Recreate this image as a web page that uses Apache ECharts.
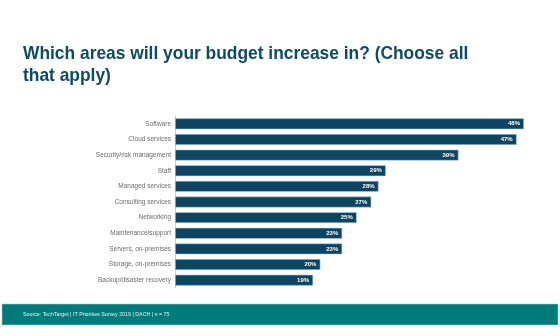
<!DOCTYPE html>
<html>
<head>
<meta charset="utf-8">
<script src="https://cdn.jsdelivr.net/npm/echarts@6/dist/echarts.min.js"></script>
<style>
  html, body { margin: 0; padding: 0; background: #ffffff; }
  #chart { width: 560px; height: 336px; }
</style>
</head>
<body>
<div id="chart"></div>
<script>
// Budget areas, listed top to bottom
const categories = [
  'Software',
  'Cloud services',
  'Security/risk management',
  'Staff',
  'Managed services',
  'Consulting services',
  'Networking',
  'Maintenance/support',
  'Servers, on-premises',
  'Storage, on-premises',
  'Backup/disaster recovery'
];
// Share of respondents (%)
const values = [48, 47, 39, 29, 28, 27, 25, 23, 23, 20, 19];

const titleText = 'Which areas will your budget increase in? (Choose all\nthat apply)';
const sourceText = 'Source: TechTarget | IT Priorities Survey 2019 | DACH | n = 75';

const chart = echarts.init(document.getElementById('chart'));
chart.setOption({
  backgroundColor: '#ffffff',
  animation: false,
  grid: {
    left: 175,
    right: 21.5,
    top: 116,
    bottom: 48,
    containLabel: false
  },
  xAxis: {
    type: 'value',
    min: 0,
    max: 50,
    show: false
  },
  yAxis: {
    type: 'category',
    inverse: true,
    data: categories,
    axisLine: { show: true, lineStyle: { color: '#d0d0d0', width: 1 } },
    axisTick: { show: false },
    axisLabel: {
      fontFamily: 'Liberation Sans, Arial, sans-serif',
      fontSize: 6.5,
      color: '#6b6b6b',
      margin: 4
    }
  },
  series: [{
    type: 'bar',
    data: values,
    barWidth: 11,
    itemStyle: {
      color: '#0b4562',
      borderColor: '#b9cfd9',
      borderWidth: 0.6
    },
    label: {
      show: true,
      position: 'insideRight',
      formatter: '{c}%',
      fontFamily: 'Liberation Sans, Arial, sans-serif',
      fontSize: 6,
      fontWeight: 'bold',
      color: '#ffffff',
      distance: 4
    }
  }],
  graphic: [
    {
      // heading, slightly condensed
      type: 'text',
      x: 23,
      y: 43.5,
      scaleX: 0.915,
      style: {
        text: titleText,
        fill: '#0d4a63',
        fontFamily: 'Liberation Sans, Arial, sans-serif',
        fontSize: 19,
        fontWeight: 'bold',
        lineHeight: 21.5,
        verticalAlign: 'top'
      }
    },
    {
      type: 'rect',
      shape: { x: 2, y: 304, width: 556, height: 21 },
      style: { fill: '#007b7b', stroke: '#9fcfcf', lineWidth: 0.6 }
    },
    {
      type: 'text',
      x: 23,
      y: 314.5,
      style: {
        text: sourceText,
        fill: '#f2f2f2',
        fontFamily: 'Liberation Sans, Arial, sans-serif',
        fontSize: 5.3,
        verticalAlign: 'middle'
      }
    }
  ]
});
</script>
</body>
</html>
